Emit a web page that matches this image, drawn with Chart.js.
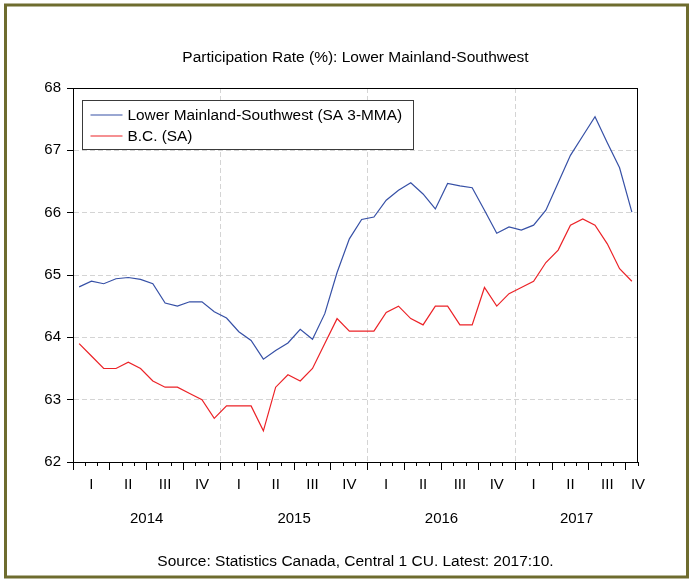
<!DOCTYPE html>
<html>
<head>
<meta charset="utf-8">
<title>Participation Rate (%): Lower Mainland-Southwest</title>
<script src="https://cdn.jsdelivr.net/npm/chart.js@4.4.1/dist/chart.umd.min.js"></script>
<style>
  html, body { margin: 0; padding: 0; background: #fff; }
  #wrap { width: 694px; height: 580px; position: relative; }
</style>
</head>
<body>
<div id="wrap"><canvas id="myChart"></canvas></div>
<script>
  // monthly data, Jan 2014 - Oct 2017
  var months = [
    '2014-01','2014-02','2014-03','2014-04','2014-05','2014-06','2014-07','2014-08','2014-09','2014-10','2014-11','2014-12',
    '2015-01','2015-02','2015-03','2015-04','2015-05','2015-06','2015-07','2015-08','2015-09','2015-10','2015-11','2015-12',
    '2016-01','2016-02','2016-03','2016-04','2016-05','2016-06','2016-07','2016-08','2016-09','2016-10','2016-11','2016-12',
    '2017-01','2017-02','2017-03','2017-04','2017-05','2017-06','2017-07','2017-08','2017-09','2017-10'
  ];

  var lowerMainland = [
    64.81, 64.90, 64.86, 64.94, 64.96, 64.93, 64.86, 64.55, 64.50, 64.57, 64.57, 64.41,
    64.31, 64.09, 63.95, 63.65, 63.79, 63.91, 64.13, 63.97, 64.38, 65.04, 65.58, 65.89,
    65.93, 66.20, 66.36, 66.48, 66.30, 66.06, 66.47, 66.43, 66.40, 66.04, 65.67, 65.77,
    65.72, 65.80, 66.04, 66.48, 66.92, 67.23, 67.54, 67.12, 66.72, 66.01
  ];

  var bcRate = [
    63.9, 63.7, 63.5, 63.5, 63.6, 63.5, 63.3, 63.2, 63.2, 63.1, 63.0, 62.7,
    62.9, 62.9, 62.9, 62.5, 63.2, 63.4, 63.3, 63.5, 63.9, 64.3, 64.1, 64.1,
    64.1, 64.4, 64.5, 64.3, 64.2, 64.5, 64.5, 64.2, 64.2, 64.8, 64.5, 64.7,
    64.8, 64.9, 65.2, 65.4, 65.8, 65.9, 65.8, 65.5, 65.1, 64.9
  ];

  var quarterLabels = ['I','II','III','IV','I','II','III','IV','I','II','III','IV','I','II','III','IV'];
  var yearLabels = ['2014', '2015', '2016', '2017'];
  var seriesNames = ['Lower Mainland-Southwest (SA 3-MMA)', 'B.C. (SA)'];

  var FONT = '"Liberation Sans", Arial, sans-serif';
  Chart.defaults.font.family = FONT;
  Chart.defaults.font.size = 15;
  Chart.defaults.color = '#000';

  function toPoints(list) {
    return list.map(function (v, i) { return { x: i + 0.5, y: v }; });
  }

  // olive frame, white background, black box round the plot
  var framePlugin = {
    id: 'frame',
    beforeDraw: function (chart) {
      var c = chart.ctx;
      c.save();
      c.fillStyle = '#fff';
      c.fillRect(0, 0, chart.width, chart.height);
      c.strokeStyle = '#6e6c2e';
      c.lineWidth = 3;
      c.strokeRect(5.5, 5, chart.width - 12, chart.height - 8);
      c.restore();
    },
    afterDraw: function (chart) {
      var c = chart.ctx, a = chart.chartArea;
      c.save();
      c.strokeStyle = '#000';
      c.lineWidth = 1;
      c.strokeRect(Math.round(a.left) + 0.5, Math.round(a.top) + 0.5,
        Math.round(a.right - a.left) - 1, Math.round(a.bottom - a.top));
      c.restore();
    }
  };

  // boxed legend in the top-left corner of the plot
  var boxLegend = {
    id: 'boxLegend',
    afterDatasetsDraw: function (chart) {
      var c = chart.ctx, a = chart.chartArea, sets = chart.data.datasets;
      var x0 = Math.round(a.left) + 9.5, y0 = Math.round(a.top) + 12.5;
      c.save();
      c.font = '15.4px ' + FONT;
      var w = 0;
      sets.forEach(function (d) { w = Math.max(w, c.measureText(d.label).width); });
      var bw = Math.round(45 + w + 11), bh = 49;
      c.fillStyle = '#fff';
      c.fillRect(x0, y0, bw, bh);
      c.strokeStyle = '#3a3a3a';
      c.lineWidth = 1;
      c.strokeRect(x0, y0, bw, bh);
      sets.forEach(function (d, i) {
        var cy = y0 + 14.5 + i * 21;
        c.strokeStyle = d.borderColor;
        c.lineWidth = 1.2;
        c.beginPath();
        c.moveTo(x0 + 8, cy);
        c.lineTo(x0 + 40, cy);
        c.stroke();
        c.fillStyle = '#000';
        c.textBaseline = 'middle';
        c.textAlign = 'left';
        c.fillText(d.label, x0 + 45, cy + 0.5);
      });
      c.restore();
    }
  };

  var ctx = document.getElementById('myChart').getContext('2d');
  this.chart = new Chart(ctx, {
    type: 'line',
    data: {
      datasets: [
        {
          label: seriesNames[0],
          data: toPoints(lowerMainland),
          borderColor: '#3650a6',
          borderWidth: 1.2,
          pointRadius: 0,
          fill: false,
          tension: 0
        },
        {
          label: seriesNames[1],
          data: toPoints(bcRate),
          borderColor: '#ec2227',
          borderWidth: 1.2,
          pointRadius: 0,
          fill: false,
          tension: 0
        }
      ]
    },
    options: {
      responsive: true,
      maintainAspectRatio: false,
      animation: false,
      devicePixelRatio: 1,
      layout: { padding: { left: 13, right: 56, top: 20, bottom: 5 } },
      plugins: {
        legend: { display: false },
        tooltip: { enabled: false },
        title: {
          display: true,
          fullSize: false,
          text: 'Participation Rate (%): Lower Mainland-Southwest',
          color: '#000',
          font: { size: 15.5, weight: 'normal' },
          padding: { top: 28, bottom: 21.4 }
        },
        subtitle: {
          display: true,
          fullSize: false,
          position: 'bottom',
          text: 'Source: Statistics Canada, Central 1 CU. Latest: 2017:10.',
          color: '#000',
          font: { size: 15.5, weight: 'normal' },
          padding: { top: 17.4, bottom: 4 }
        }
      },
      scales: {
        // month ticks, long at quarter ends, dashed grid at year ends
        x: {
          type: 'linear',
          position: 'bottom',
          weight: 1,
          min: 0,
          max: months.length,
          afterBuildTicks: function (s) {
            var t = [];
            for (var i = 0; i <= months.length; i++) t.push({ value: i });
            s.ticks = t;
          },
          afterFit: function (s) { s.height = 8; },
          ticks: { display: false },
          grid: {
            color: function (c) {
              var v = c.tick ? c.tick.value : 0;
              return (v > 0 && v < months.length && v % 12 === 0) ? '#d4d4d4' : 'rgba(0,0,0,0)';
            },
            lineWidth: 1,
            tickColor: '#000',
            tickLength: 8,
            tickBorderDash: function (c) {
              var v = c.tick ? c.tick.value : 0;
              return v % 3 === 0 ? [] : [3, 20];
            }
          },
          border: { color: '#000', dash: [5, 3] }
        },
        // quarter labels
        xq: {
          type: 'linear',
          position: 'bottom',
          weight: 2,
          min: 0,
          max: months.length,
          afterBuildTicks: function (s) {
            s.ticks = quarterLabels.map(function (q, i) {
              return { value: Math.min(i * 3 + 1.5, months.length) };
            });
          },
          afterFit: function (s) { s.height = 30; },
          ticks: {
            autoSkip: false,
            maxRotation: 0,
            padding: 6,
            callback: function (v, i) { return quarterLabels[i]; }
          },
          grid: { display: false, drawTicks: false },
          border: { display: false }
        },
        // year labels
        xy: {
          type: 'linear',
          position: 'bottom',
          weight: 3,
          min: 0,
          max: months.length,
          afterBuildTicks: function (s) {
            s.ticks = yearLabels.map(function (y) {
              var first = -1, last = -1;
              months.forEach(function (m, i) {
                if (m.indexOf(y) === 0) { if (first < 0) first = i; last = i; }
              });
              return { value: (first + last + 1) / 2 };
            });
          },
          afterFit: function (s) { s.height = 35; },
          ticks: {
            autoSkip: false,
            maxRotation: 0,
            padding: 10,
            callback: function (v, i) { return yearLabels[i]; }
          },
          grid: { display: false, drawTicks: false },
          border: { display: false }
        },
        y: {
          type: 'linear',
          min: 62,
          max: 68,
          afterFit: function (s) { s.width = 60; },
          ticks: { stepSize: 1, padding: 6 },
          grid: {
            color: '#d4d4d4',
            tickColor: '#000',
            tickLength: 6
          },
          border: { color: '#000', dash: [5, 3] }
        }
      }
    },
    plugins: [framePlugin, boxLegend]
  });
</script>
</body>
</html>
